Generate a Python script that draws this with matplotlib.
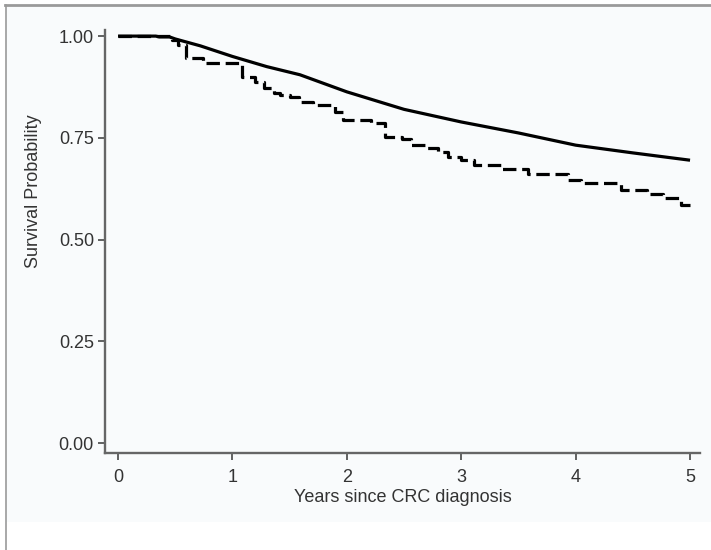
import matplotlib
matplotlib.use("Agg")
import matplotlib.pyplot as plt
from matplotlib.lines import Line2D
from matplotlib.patches import Rectangle

plt.rcParams['font.family'] = ['Liberation Sans', 'DejaVu Sans']

# Solid curve (smooth-looking survival curve)
solid_years = [0.0, 0.33, 0.36, 0.45, 0.50, 0.72, 1.00, 1.30, 1.59, 2.00, 2.50, 3.00, 3.50, 4.00, 4.50, 5.00]
solid_surv = [1.000, 1.000, 0.998, 0.998, 0.993, 0.976, 0.950, 0.925, 0.905, 0.863, 0.820, 0.789, 0.762, 0.732, 0.713, 0.695]

# Dashed curve (step function)
dashed_years = [0.0, 0.47, 0.52, 0.59, 0.74, 1.08, 1.20, 1.28, 1.36, 1.42, 1.50, 1.58, 1.70, 1.90, 1.97,
                2.21, 2.33, 2.48, 2.56, 2.70, 2.80, 2.88, 3.00, 3.11, 3.35, 3.58, 3.93, 4.05, 4.40,
                4.62, 4.76, 4.92, 5.00]
dashed_surv = [1.000, 0.990, 0.978, 0.945, 0.934, 0.900, 0.888, 0.873, 0.860, 0.855, 0.851, 0.839, 0.830,
               0.814, 0.794, 0.787, 0.753, 0.747, 0.732, 0.726, 0.716, 0.703, 0.695, 0.683, 0.673,
               0.662, 0.646, 0.638, 0.622, 0.613, 0.602, 0.585, 0.585]

x_ticks = [0, 1, 2, 3, 4, 5]
y_ticks = [0.00, 0.25, 0.50, 0.75, 1.00]
y_tick_labels = ["0.00", "0.25", "0.50", "0.75", "1.00"]
x_label = "Years since CRC diagnosis"
y_label = "Survival Probability"

W, H = 711, 550
fig = plt.figure(figsize=(W / 100, H / 100), dpi=100)
fig.patch.set_facecolor('white')

# light graph region background
bg = Rectangle((6 / W, (H - 522) / H), 1 - 6 / W, (522 - 5) / H,
               transform=fig.transFigure, facecolor='#f9fbfc', edgecolor='none', zorder=-10)
fig.add_artist(bg)
# outer frame lines (top and left)
fig.add_artist(Line2D([5 / W, 1], [1 - 4.5 / H, 1 - 4.5 / H], transform=fig.transFigure,
                      color='#9a9a9a', lw=2, zorder=-5))
fig.add_artist(Line2D([6 / W, 6 / W], [0, 1 - 4.5 / H], transform=fig.transFigure,
                      color='#9a9a9a', lw=1.2, zorder=-5))

ax_left, ax_right = 105 / W, 700 / W
ax_bottom, ax_top = (H - 452.7) / H, (H - 30) / H
ax = fig.add_axes([ax_left, ax_bottom, ax_right - ax_left, ax_top - ax_bottom])
ax.set_zorder(5)
ax.set_facecolor('none')

ax.plot(solid_years, solid_surv, color='black', lw=2.3, solid_capstyle='butt')
ax.plot(dashed_years, dashed_surv, color='black', lw=2.3, drawstyle='steps-post',
        dashes=(4.2, 1.8), dash_capstyle='butt')

ax.set_xlim(-0.114, 5.087)
ax.set_ylim(-0.0238, 1.015)

ax.spines['top'].set_visible(False)
ax.spines['right'].set_visible(False)
for s in ['left', 'bottom']:
    ax.spines[s].set_color('#666666')
    ax.spines[s].set_linewidth(1.7)

txt_color = '#333333'
ax.set_xticks(x_ticks)
ax.set_yticks(y_ticks)
ax.set_yticklabels(y_tick_labels)
ax.tick_params(axis='both', colors='#555555', labelcolor=txt_color, labelsize=13,
               length=5, width=1.3, direction='out')
ax.tick_params(axis='y', pad=3)
ax.tick_params(axis='x', pad=7)

ax.set_xlabel(x_label, fontsize=13, color=txt_color, labelpad=2)
ax.set_ylabel(y_label, fontsize=13, color=txt_color)
ax.yaxis.set_label_coords((42 - 105) / 595, (452.7 - 191) / (452.7 - 30))

fig.savefig('out.png', dpi=100, facecolor=fig.get_facecolor())
